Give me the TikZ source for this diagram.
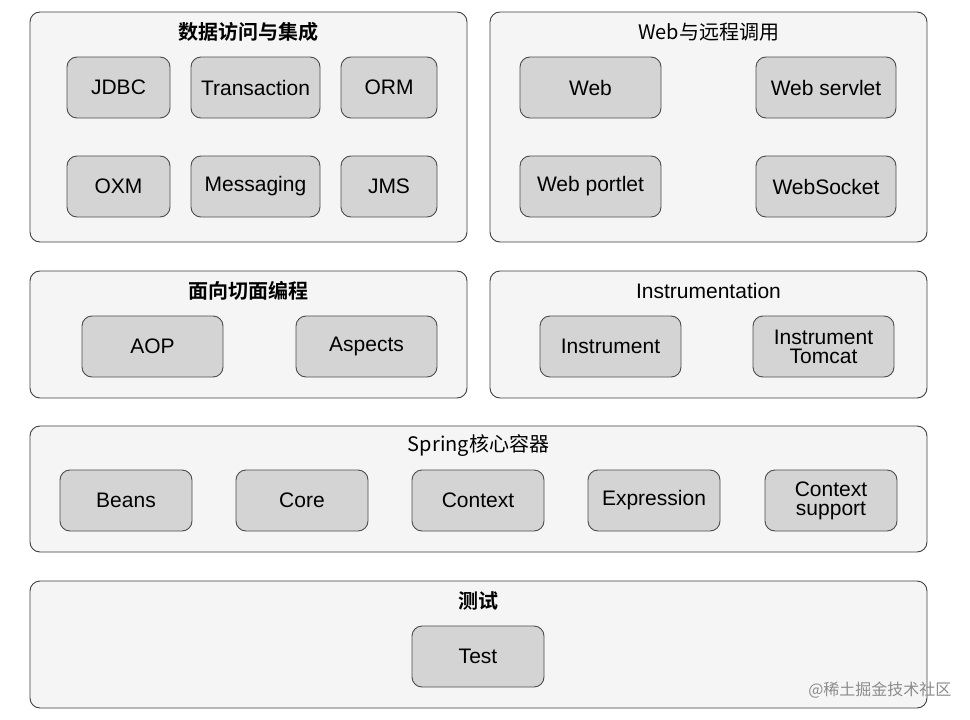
\documentclass[tikz,border=0pt]{standalone}
\usepackage{fontspec}
\setmainfont{Liberation Sans}
\newfontfamily\cjk{Noto Sans CJK SC}
\newfontfamily\cjkb{Noto Sans CJK SC Bold}
\begin{document}
\begin{tikzpicture}[x=1pt,y=-1pt,
  panel/.style={draw=black!75,line width=0.9pt,fill=black!4,rounded corners=10pt},
  mod/.style={draw=black!70,line width=0.9pt,fill=black!17,rounded corners=10pt},
  lbl/.style={font=\fontsize{21}{22}\selectfont,align=center},
  ttl/.style={font=\fontsize{20}{22}\selectfont\cjkb}]
\useasboundingbox[fill=white] (0,0) rectangle (970,720);
\newcommand\pan[5]{\draw[panel] (#1,#2) rectangle (#3,#4); \node[ttl] at ({(#1+#3)/2},{#2+20}) {#5};}
\newcommand\md[6]{\draw[mod] (#1,#2) rectangle (#3,#4); \node[lbl] (#5) at ({(#1+#3)/2},{(#2+#4)/2}) {#6};}
\pan{30}{12}{467}{242}{数据访问与集成}
\pan{490}{12}{927}{242}{\cjk Web与远程调用}
\pan{30}{271}{467}{398}{面向切面编程}
\pan{490}{271}{927}{398}{\fontsize{21}{22}\selectfont\rmfamily Instrumentation}
\pan{30}{426}{927}{552}{\cjk Spring核心容器}
\pan{30}{581}{927}{708}{测试}
\md{67}{57}{170}{118}{jdbc}{JDBC}
\md{191}{57}{320}{118}{tx}{Transaction}
\md{341}{57}{437}{118}{orm}{ORM}
\md{67}{156}{170}{217}{oxm}{OXM}
\md{191}{156}{320}{217}{msg}{Messaging}
\md{341}{156}{437}{217}{jms}{JMS}
\md{520}{57}{661}{118}{web}{Web}
\md{756}{57}{896}{118}{servlet}{Web servlet}
\md{520}{156}{661}{217}{portlet}{Web portlet}
\md{756}{156}{896}{217}{ws}{WebSocket}
\md{82}{316}{223}{377}{aop}{AOP}
\md{296}{316}{437}{377}{asp}{Aspects}
\md{540}{316}{681}{377}{ins}{Instrument}
\md{753}{316}{894}{377}{tom}{Instrument\\[-3pt]Tomcat}
\md{60}{470}{192}{531}{beans}{Beans}
\md{236}{470}{368}{531}{core}{Core}
\md{412}{470}{544}{531}{ctx}{Context}
\md{588}{470}{720}{531}{expr}{Expression}
\md{765}{470}{897}{531}{cs}{Context\\[-3pt]support}
\md{412}{626}{544}{687}{test}{Test}
\node[font=\fontsize{16}{18}\selectfont\cjk,text=black!45,anchor=east] (wm) at (955,690) {@稀土掘金技术社区};
\end{tikzpicture}
\end{document}
